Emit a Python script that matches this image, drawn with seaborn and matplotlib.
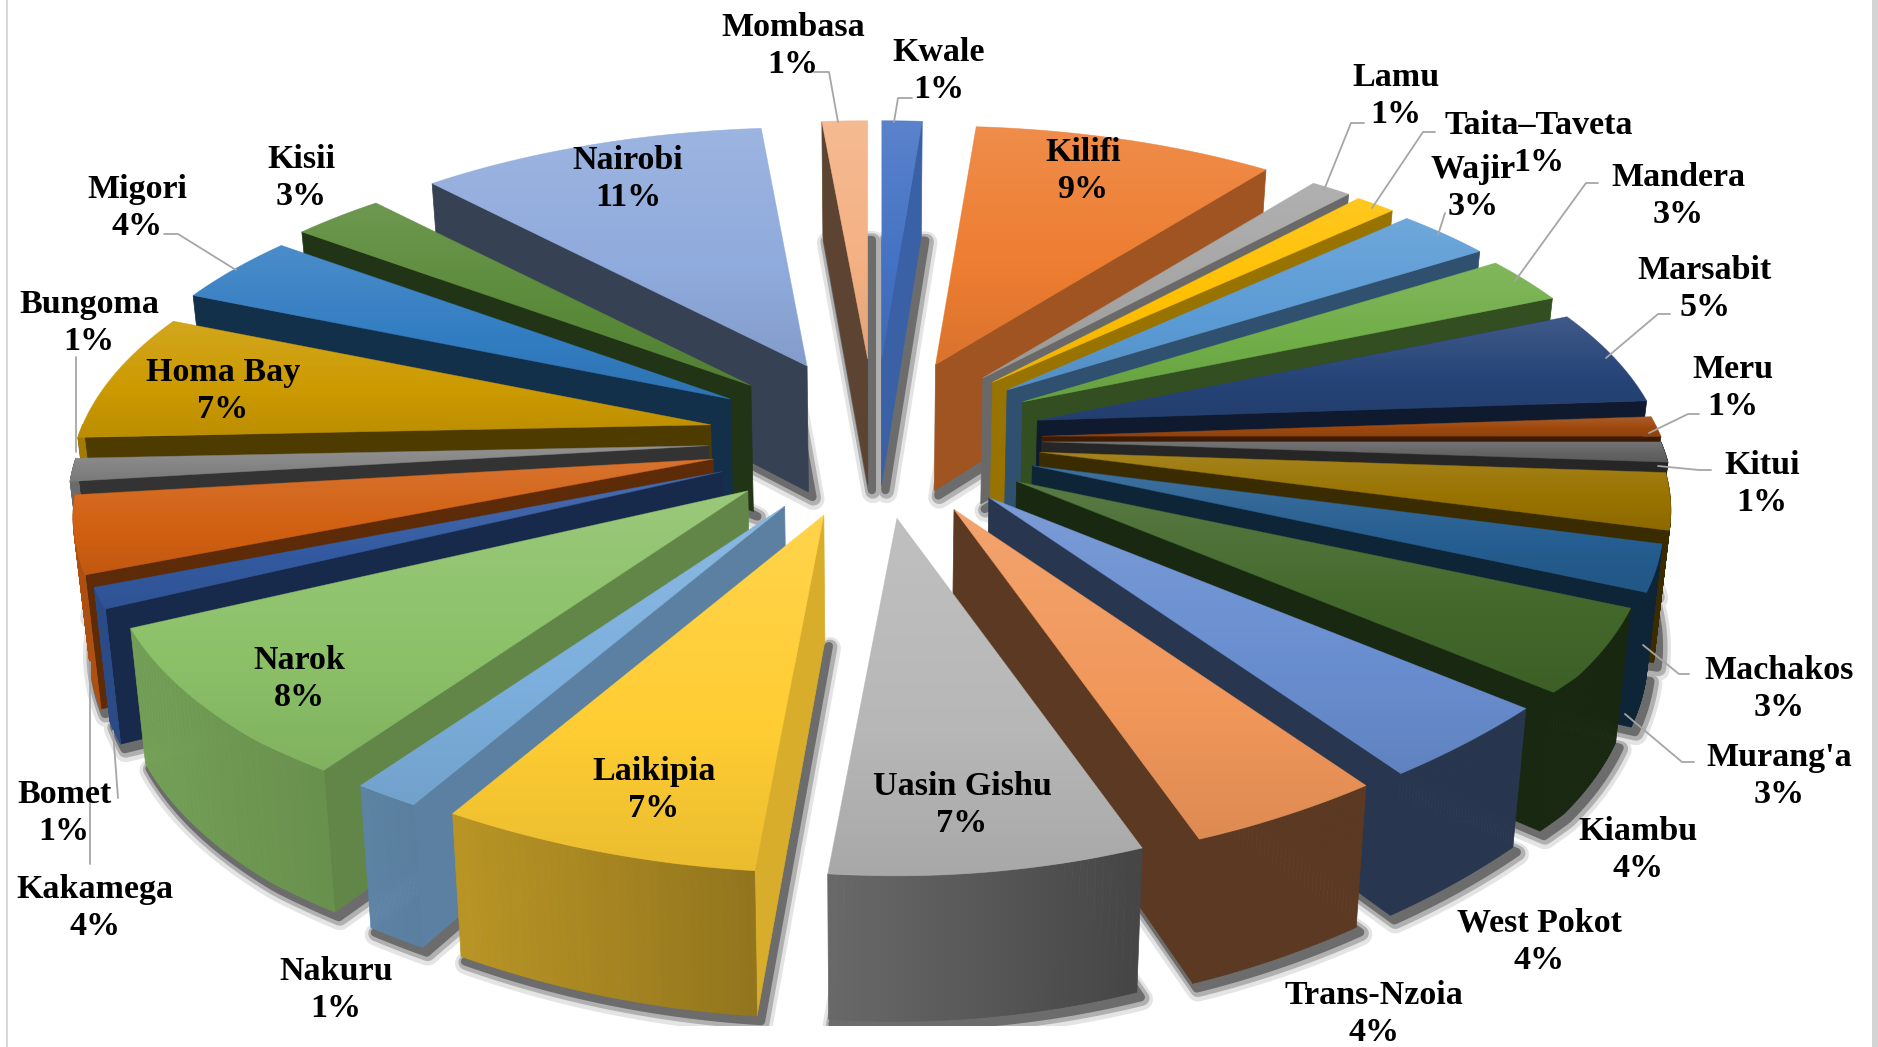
import numpy as np
import seaborn as sns
import matplotlib.pyplot as plt
from matplotlib.colors import to_rgb
from matplotlib.patches import Polygon, Rectangle

# Data (clockwise from 12 o'clock)
counties = ["Kwale", "Kilifi", "Lamu", "Taita\u2013Taveta", "Wajir", "Mandera", "Marsabit",
            "Meru", "Kitui", "Machakos", "Murang'a", "Kiambu", "West Pokot", "Trans-Nzoia",
            "Uasin Gishu", "Laikipia", "Nakuru", "Narok", "Bomet", "Kakamega", "Bungoma",
            "Homa Bay", "Migori", "Kisii", "Nairobi", "Mombasa"]
shares = [1.25, 9.31, 1.25, 1.25, 2.92, 2.64, 5.28, 1.11, 1.11, 3.06, 2.5, 4.44, 3.89,
          4.31, 7.19, 6.92, 1.36, 8.0, 1.11, 4.17, 1.25, 7.08, 3.89, 2.78, 10.56, 1.39]
shown_pct = [1, 9, 1, 1, 3, 3, 5, 1, 1, 3, 3, 4, 4, 4, 7, 7, 1, 8, 1, 4, 1, 7, 4, 3, 11, 1]
colors = ["#4472C4", "#ED7D31", "#A5A5A5", "#FFC000", "#5B9BD5", "#70AD47", "#264478",
          "#9E480E", "#636363", "#997300", "#255E91", "#43682B", "#698ED0", "#F1975A",
          "#B7B7B7", "#FFCD33", "#7CAFDD", "#8CC168", "#335AA1", "#D26012", "#848484",
          "#CC9A00", "#327DC2", "#5A8A39", "#8FAADC", "#F4B183"]

# label centres, in pixels of the picture
label_pos = {
    "Kwale": (939, 71), "Kilifi": (1083, 171), "Lamu": (1396, 96), "Taita\u2013Taveta": (1539, 144),
    "Wajir": (1473, 188), "Mandera": (1678, 196), "Marsabit": (1705, 289), "Meru": (1733, 388),
    "Kitui": (1762, 484), "Machakos": (1779, 689), "Murang'a": (1779, 776), "Kiambu": (1638, 850),
    "West Pokot": (1539, 942), "Trans-Nzoia": (1374, 1014), "Uasin Gishu": (962, 805),
    "Laikipia": (654, 790), "Nakuru": (336, 990), "Narok": (299, 679), "Bomet": (64, 813),
    "Kakamega": (95, 908), "Bungoma": (89, 323), "Homa Bay": (223, 391), "Migori": (137, 208),
    "Kisii": (301, 178), "Nairobi": (628, 179), "Mombasa": (793, 46),
}
leaders = [
    [(894, 122), (898, 98), (912, 98)], [(838, 122), (829, 72), (814, 72)],
    [(236, 270), (178, 234), (164, 234)], [(76, 452), (76, 357)],
    [(1324, 190), (1351, 123), (1364, 123)], [(1372, 208), (1423, 132), (1435, 132)],
    [(1438, 235), (1445, 213)], [(1515, 281), (1586, 183), (1598, 183)],
    [(1606, 358), (1658, 314), (1670, 314)], [(1649, 433), (1688, 414), (1699, 414)],
    [(1658, 466), (1699, 470), (1711, 470)], [(1643, 645), (1679, 674), (1689, 674)],
    [(1625, 714), (1682, 762), (1694, 762)], [(113, 731), (118, 798)], [(90, 662), (90, 864)],
]

sns.set_theme(style="white")
plt.rcParams["font.family"] = ["Liberation Serif", "DejaVu Serif"]
palette = sns.color_palette(colors)

fig = plt.figure(figsize=(18.78, 10.47), dpi=100)
ax = fig.add_axes([0, 0, 1, 1])
ax.set_xlim(0, 1878)
ax.set_ylim(1047, 0)
ax.axis("off")

# projection of the tilted, exploded pie
cx, cy = 875, 439
ex, ey = 167, 80
rx_right, rx_left = 619, 628
ry = 286
px, py = 0.195, 0.2
depth = 128


def apex(t):
    return np.array([cx + ex * np.sin(t), cy - ey * np.cos(t)])


def rim(a, t):
    c = np.cos(t)
    if np.sin(t) >= 0:
        x = rx_right * np.sin(t) / (1 + px * max(c, -0.6))
    else:
        x = rx_left * np.sin(t) / (1 + px * max(c, -0.75))
    return np.array([a[0] + x, a[1] - ry * c / (1 + py * c)])


def drop(p, d):
    # same point on the bottom face
    return np.array([cx + (p[0] - cx) * 0.98, p[1] + d])


def shade(col, f):
    col = np.array(to_rgb(col))
    if f > 1:
        return tuple(col + (1 - col) * (f - 1))
    return tuple(col * f)


def wall_factor(phi):
    return 0.38 + 0.47 * np.cos(phi - np.pi / 2) ** 2 if np.sin(phi) > 0 else 0.38


def outer_factor(t):
    return 0.38 + 0.45 * max(0, np.cos(t - np.radians(250)))


def cross(u, v):
    return u[0] * v[1] - u[1] * v[0]


def faces_viewer(a, p, other):
    # the wall under edge a-p shows only if the top face lies above that edge
    return cross(p - a, other - a) * cross(p - a, (0, 1)) < 0


edges = np.cumsum([0] + shares) / sum(shares) * 2 * np.pi
slices = []
for i, col in enumerate(palette):
    t0, t1 = edges[i], edges[i + 1]
    a = apex((t0 + t1) / 2)
    ts = np.linspace(t0, t1, 40)
    arc = np.array([rim(a, t) for t in ts])
    arc_d = np.array([drop(p, depth / (1 + 0.12 * np.cos(t))) for p, t in zip(arc, ts)])
    a_d = drop(a, 126)
    slices.append(dict(col=col, t0=t0, t1=t1, a=a, a_d=a_d, ts=ts, arc=arc, arc_d=arc_d))

# soft shadow under everything
for lw, grey, off in [(16, "#e4e4e4", (5, 7)), (11, "#b0b0b0", (5, 6)), (6, "#6c6c6c", (4, 5))]:
    for s in slices:
        bottom = np.vstack([s["a_d"], s["arc_d"]]) + off
        ax.add_patch(Polygon(bottom, fc=grey, ec=grey, lw=lw, joinstyle="round", zorder=1))

# painter's order: back slices first
order = sorted(slices, key=lambda s: -np.cos((s["t0"] + s["t1"]) / 2))
z = 10
for s in order:
    col = s["col"]
    for p, p_d, other, phi in [(s["arc"][0], s["arc_d"][0], s["arc"][-1], s["t0"] - np.pi / 2),
                               (s["arc"][-1], s["arc_d"][-1], s["arc"][0], s["t1"] + np.pi / 2)]:
        if faces_viewer(s["a"], p, other):
            c = shade(col, wall_factor(phi))
            ax.add_patch(Polygon([s["a"], p, p_d, s["a_d"]], fc=c, ec=c, lw=0.5, zorder=z))
            z += 1
    for j in range(len(s["ts"]) - 1):
        if np.cos(s["ts"][j]) > 0:
            continue
        c = shade(col, outer_factor(s["ts"][j]))
        q = [s["arc"][j], s["arc"][j + 1], s["arc_d"][j + 1], s["arc_d"][j]]
        ax.add_patch(Polygon(q, fc=c, ec=c, lw=0.5, zorder=z))
    z += 1
    # top face with a vertical gradient
    pts = np.vstack([s["a"], s["arc"]])
    grad = np.array([shade(col, f) for f in np.linspace(1.12, 0.92, 64)])[:, None, :]
    clip = Polygon(pts, transform=ax.transData)
    im = ax.imshow(grad, extent=(pts[:, 0].min(), pts[:, 0].max(), pts[:, 1].max(), pts[:, 1].min()),
                   aspect="auto", interpolation="bilinear", zorder=z)
    im.set_clip_path(clip)
    ax.add_patch(Polygon(pts, fc="none", ec=shade(col, 1.0), lw=0.5, alpha=0.6, zorder=z))
    z += 1

ax.set_xlim(0, 1878)
ax.set_ylim(1047, 0)

# picture is cropped just under the pie, with page edges left and right
ax.add_patch(Rectangle((0, 1026), 1878, 21, fc="white", ec="none", zorder=z))
ax.add_patch(Rectangle((6, 0), 1.5, 1047, fc="#d9d9d9", ec="none", zorder=z))
ax.add_patch(Rectangle((1872, 0), 6, 1047, fc="#d4d4d4", ec="none", zorder=z))

for line in leaders:
    xs, ys = zip(*line)
    ax.plot(xs, ys, color="#a6a6a6", lw=1.3, zorder=z + 1)

for name, pct in zip(counties, shown_pct):
    x, y = label_pos[name]
    ax.text(x, y, f"{name}\n{pct}%", ha="center", va="center", fontsize=24.5, fontweight="bold",
            color="black", linespacing=1.28, zorder=z + 2)

plt.savefig("out.png", dpi=100)
